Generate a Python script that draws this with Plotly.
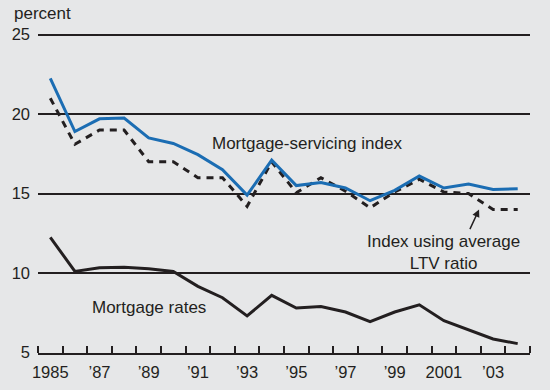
import plotly.graph_objects as go

years = list(range(1985, 2005))
servicing_index = [22.25, 18.9, 19.7, 19.75, 18.5, 18.15, 17.45, 16.5, 14.9, 17.1,
                   15.5, 15.7, 15.35, 14.55, 15.2, 16.1, 15.35, 15.6, 15.25, 15.3]
ltv_index = [21.0, 18.1, 19.0, 19.0, 17.0, 17.0, 16.0, 16.0, 14.2, 17.0,
             15.05, 16.0, 15.15, 14.1, 15.1, 15.9, 15.1, 15.0, 14.0, 14.0]
mortgage_rates = [12.25, 10.1, 10.33, 10.37, 10.27, 10.1, 9.16, 8.45, 7.3, 8.6,
                  7.8, 7.9, 7.55, 6.94, 7.55, 8.0, 7.0, 6.4, 5.85, 5.56]
tick_years = [1985, 1987, 1989, 1991, 1993, 1995, 1997, 1999, 2001, 2003]
tick_labels = ["1985", "\u201987", "\u201989", "\u201991", "\u201993", "\u201995",
               "\u201997", "\u201999", "2001", "\u201903"]
y_ticks = [5, 10, 15, 20, 25]

FONT = "Liberation Sans, Arial, sans-serif"
TXT = "#231f20"
BG = "#e6e7e8"

fig = go.Figure()
fig.add_trace(go.Scatter(x=years, y=mortgage_rates, mode="lines",
                         line=dict(color="#231f20", width=3), name="Mortgage rates"))
fig.add_trace(go.Scatter(x=years, y=ltv_index, mode="lines",
                         line=dict(color="#231f20", width=3, dash="7px,6px"),
                         name="Index using average LTV ratio"))
fig.add_trace(go.Scatter(x=years, y=servicing_index, mode="lines",
                         line=dict(color="#1b6db3", width=3), name="Mortgage-servicing index"))

fig.update_layout(
    width=550, height=390,
    paper_bgcolor=BG, plot_bgcolor=BG,
    margin=dict(l=38, r=20, t=33, b=37, autoexpand=False),
    showlegend=False,
    font=dict(family=FONT, size=16, color=TXT),
    xaxis=dict(range=[1984.5, 2004.5], tickvals=tick_years, ticktext=tick_labels,
               ticks="", showgrid=False, zeroline=False,
               showline=True, linecolor="#231f20", linewidth=2,
               tickfont=dict(size=16.5, color=TXT), ticklabelstandoff=3,
               minor=dict(tick0=1984.5, dtick=1, ticks="inside", ticklen=7,
                          tickwidth=2, tickcolor="#231f20", showgrid=False)),
    yaxis=dict(range=[4.97, 25.1], tickvals=y_ticks, ticks="", showgrid=True,
               gridcolor="#231f20", gridwidth=2, zeroline=False, showline=False,
               tickfont=dict(size=16.5, color=TXT), ticklabelstandoff=7),
    annotations=[
        dict(text="percent", xref="paper", yref="paper", x=-0.053, y=1.0,
             yshift=20, xanchor="left", yanchor="middle", showarrow=False,
             font=dict(size=17, color=TXT)),
        dict(text="Mortgage-servicing index", x=1995.42, y=18.13, xref="x", yref="y",
             showarrow=False, font=dict(size=17, color=TXT)),
        dict(text="Index using average<br>LTV ratio", x=2001.0, y=11.3, xref="x", yref="y",
             showarrow=False, font=dict(size=17, color=TXT)),
        dict(text="Mortgage rates", x=1989, y=7.86, xref="x", yref="y",
             showarrow=False, font=dict(size=17, color=TXT)),
        dict(text="", x=2002.43, y=14.0, xref="x", yref="y",
             ax=2002.03, ay=12.67, axref="x", ayref="y",
             showarrow=True, arrowhead=2, arrowsize=1, arrowwidth=1.5,
             arrowcolor="#231f20", standoff=0, startstandoff=0),
    ],
)

fig.write_html(
    "out.html",
    config={"displayModeBar": False},
    post_script="document.body.style.margin='0';document.body.style.background='%s';" % BG,
)
